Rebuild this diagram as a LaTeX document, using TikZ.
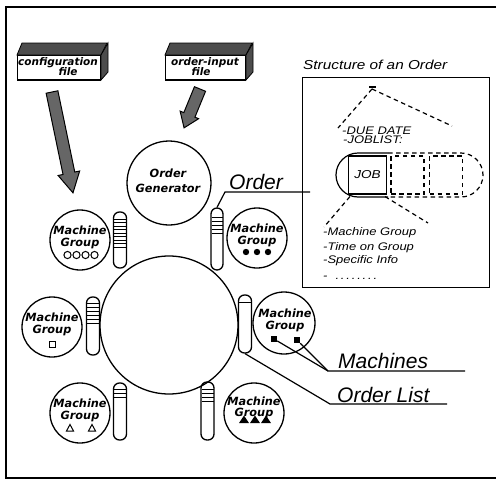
\documentclass[tikz,border=0pt]{standalone}
\usepackage{fontspec}
\setmainfont{Liberation Sans}
\newfontfamily\dvsans{DejaVu Sans}
\newfontfamily\widesans{Liberation Sans}[FakeStretch=1.18]
\begin{document}
\begin{tikzpicture}[x=1pt,y=-1pt,
  every node/.style={inner sep=0pt},
  grp/.style={circle,draw,line width=1.3pt,minimum size=60pt},
  pillbox/.style={draw,line width=1.3pt,rounded corners=6pt,minimum width=13pt,minimum height=58pt},
  lbl/.style={font=\dvsans\bfseries\itshape\fontsize{11.3}{12}\selectfont,anchor=base},
  flbl/.style={font=\dvsans\bfseries\itshape\fontsize{10.5}{12}\selectfont,anchor=base},
  big/.style={font=\itshape\fontsize{21}{24}\selectfont,anchor=base west},
  stxt/.style={font=\widesans\itshape\fontsize{11}{13}\selectfont,anchor=base west},
  dsh/.style={line width=1.2pt,dash pattern=on 4.5pt off 3.5pt},
  filetop/.style={fill=black!70,draw,line width=0.8pt},
  blockarrow/.style={fill=black!60,draw,line width=1pt},
  stripe/.style={line width=1pt},
]
\useasboundingbox (0,0) rectangle (499,480);
\draw[line width=1.5pt] (496,7) -- (6,7) -- (6,478) -- (496,478);

% ---------- input files ----------
\node[draw,line width=1pt,minimum width=83pt,minimum height=24pt,anchor=north west] (cfg) at (17,55) {};
\draw[filetop] (cfg.north west) -- ++(5,-12) -- ++(85,0) -- (cfg.north east) -- cycle;
\draw[filetop] (cfg.north east) -- ++(7,-12) -- ++(0,29) -- (cfg.south east) -- cycle;
\draw[line width=1.8pt] (cfg.south west) -- (cfg.south east);
\node[flbl] at (58,65) {configuration};
\node[flbl] at (68,75.5) {file};

\node[draw,line width=1pt,minimum width=80pt,minimum height=24pt,anchor=north west] (oin) at (165,55) {};
\draw[filetop] (oin.north west) -- ++(5,-12) -- ++(82,0) -- (oin.north east) -- cycle;
\draw[filetop] (oin.north east) -- ++(7,-12) -- ++(0,29) -- (oin.south east) -- cycle;
\draw[line width=1.8pt] (oin.south west) -- (oin.south east);
\node[flbl] at (205,65) {order-input};
\node[flbl] at (201,75.5) {file};

% ---------- block arrows ----------
\begin{scope}[shift={(52,92)},rotate=-78.25]
  \draw[blockarrow] (0,-6) -- (83,-6) -- (83,-11) -- (103,0) -- (83,11) -- (83,6) -- (0,6) -- cycle;
\end{scope}
\begin{scope}[shift={(200,89)},rotate=-112.3]
  \draw[blockarrow] (0,-6) -- (28,-6) -- (28,-10) -- (42,0) -- (28,10) -- (28,6) -- (0,6) -- cycle;
\end{scope}

% ---------- order generator and ring ----------
\node[circle,draw,line width=1.3pt,minimum size=84pt] (gen) at (169,183) {};
\node[lbl] at (168,177) {Order};
\node[lbl] at (168,192) {Generator};
\node[circle,draw,line width=1.3pt,minimum size=138pt] (ring) at (169,325) {};

% ---------- machine groups ----------
\node[grp] (gtl) at (80,240) {};
\node[lbl] at (80,234) {Machine};
\node[lbl] at (80,246) {Group};
\foreach \x in {67.5,76.5,85.5,94.5} \draw[line width=1pt] (\x,255) circle[radius=3.6pt];

\node[grp] (gml) at (52,327) {};
\node[lbl] at (52,321) {Machine};
\node[lbl] at (52,333) {Group};
\draw[line width=1pt] (49,341) rectangle (55,347);

\node[grp] (gbl) at (80,413) {};
\node[lbl] at (80,407) {Machine};
\node[lbl] at (80,419) {Group};
\foreach \x in {70,92} \draw[line width=1pt] (\x-3.5,431) -- (\x+3.5,431) -- (\x,424.5) -- cycle;

\node[grp] (gtr) at (257,238) {};
\node[lbl] at (257,232) {Machine};
\node[lbl] at (257,244) {Group};
\foreach \x in {246,257,268} \fill (\x,252) circle[radius=3.2pt];

\node[grp,minimum size=62pt] (gmr) at (284,323) {};
\node[lbl] at (285,317) {Machine};
\node[lbl] at (285,329) {Group};
\node[fill,minimum size=6pt] (sq1) at (274,339) {};
\node[fill,minimum size=6pt] (sq2) at (297,340) {};

\node[grp] (gbr) at (254,413) {};
\node[lbl] at (254,405) {Machine};
\node[lbl] at (254,416) {Group};
\foreach \x in {244,255,266} \fill (\x-5,423) -- (\x+5,423) -- (\x,415.5) -- cycle;

% ---------- order lists ----------
\node[pillbox,minimum height=56pt] (ptl) at (120,240) {};
\foreach \y in {219,222.5,...,247} \draw[stripe] (114,\y) -- (126,\y);
\node[pillbox] (pml) at (93,326) {};
\foreach \y in {303,307,...,324} \draw[stripe] (87,\y) -- (99,\y);
\node[pillbox,minimum height=57pt] (pbl) at (120,411.5) {};
\foreach \y in {389,393,397} \draw[stripe] (114,\y) -- (126,\y);
\node[pillbox,minimum width=12pt,minimum height=62pt] (ptr) at (217,239) {};
\foreach \y in {217,221,...,234} \draw[stripe] (211.5,\y) -- (222.5,\y);
\node[pillbox] (pmr) at (245,324) {};
\draw[stripe] (239,302) -- (251,302);
\node[pillbox] (pbr) at (207.5,411) {};
\foreach \y in {389,393,...,404} \draw[stripe] (201.5,\y) -- (213.5,\y);

% ---------- call-out labels ----------
\node[big] (olab) at (229,189) {Order};
\coordinate (ou1) at (225,192);
\coordinate (ou2) at (310,192);
\draw[line width=1.2pt] (ptr.north) -- (ou1) -- (ou2);

\node[big] (mlab) at (338,368) {Machines};
\coordinate (mu1) at (328,371);
\coordinate (mu2) at (465,371);
\draw[line width=1.2pt] (sq1) -- (mu1) -- (mu2);
\draw[line width=1.2pt] (sq2) -- (mu1);

\node[big] (llab) at (337,402) {Order List};
\coordinate (lu1) at (330,404);
\coordinate (lu2) at (447,404);
\draw[line width=1.2pt] (pmr.south) -- (lu1) -- (lu2);

% ---------- structure of an order ----------
\node[font=\widesans\itshape\fontsize{13}{15}\selectfont,anchor=base west] (stitle) at (303,69) {Structure of an Order};
\node[draw,line width=1.2pt,minimum width=187pt,minimum height=210pt,anchor=north west] (sbox) at (302,77) {};
\coordinate (apex) at (372,89);
\draw[line width=1.5pt] (369,87) -- (376,87);
\draw[dsh] (apex) -- (338,128);
\draw[dsh] (apex) -- (452,126);
\node[stxt] at (342,134) {-DUE DATE};
\node[stxt] at (343,143.5) {-JOBLIST:};

\node[draw,line width=1.1pt,minimum width=38pt,minimum height=38pt,font=\widesans\itshape\fontsize{11.5}{13}\selectfont] (job) at (367.5,175) {JOB};
\node[draw,dsh,minimum width=33pt,minimum height=38pt] (j2) at (407.5,175) {};
\node[draw,dsh,minimum width=33pt,minimum height=38pt] (j3) at (446,175) {};
\draw[line width=1.2pt] (388,153) -- (358,153) arc[start angle=90,end angle=270,radius=22pt] -- (388,197);
\draw[dsh] (388,153) -- (461,153) arc[start angle=90,end angle=-90,radius=22pt] -- (388,197);

\coordinate (l1) at (324,227);
\coordinate (l2) at (428,223);
\draw[dsh] (job.south west) ++(2,2) -- (l1);
\draw[dsh] (job.south east) ++(-2,2) -- (l2);
\node[stxt] at (323,235) {-Machine Group};
\node[stxt] at (323,250) {-Time on Group};
\node[stxt] at (323,263) {-Specific Info};
\node[stxt] at (323,279) {-\hspace{8pt}.\,.\,.\,.\,.\,.\,.\,.};
\end{tikzpicture}
\end{document}
